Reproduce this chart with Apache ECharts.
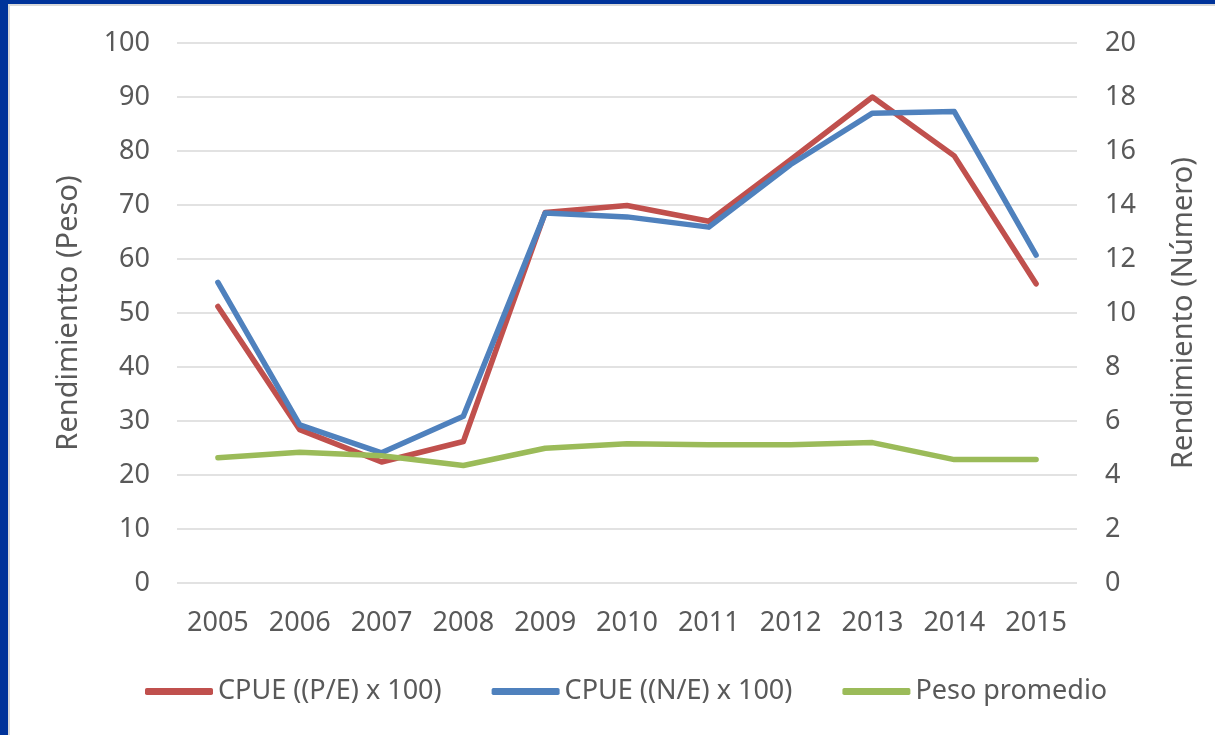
<!DOCTYPE html>
<html>
<head>
<meta charset="utf-8">
<script src="https://cdn.jsdelivr.net/npm/echarts@6/dist/echarts.min.js"></script>
<style>
html,body{margin:0;padding:0;background:#fff;}
#chart{position:absolute;left:0;top:0;width:1215px;height:735px;background:#fff;}
.b{position:absolute;}
</style>
</head>
<body>
<div id="chart"></div>
<div class="b" style="left:0;top:0;width:8px;height:735px;background:#00339a;"></div>
<div class="b" style="left:0;top:0;width:1215px;height:4px;background:#00339a;"></div>
<div class="b" style="left:8px;top:4px;width:2px;height:731px;background:#d9d9d9;"></div>
<div class="b" style="left:8px;top:4px;width:1207px;height:2px;background:#d9d9d9;"></div>
<script>
var years = ['2005','2006','2007','2008','2009','2010','2011','2012','2013','2014','2015'];
var cpuePeso = [51.2, 28.4, 22.4, 26.2, 68.6, 69.9, 67.0, 78.4, 90.0, 79.1, 55.4];
var cpueNumero = [11.13, 5.86, 4.82, 6.18, 13.7, 13.56, 13.18, 15.5, 17.4, 17.46, 12.14];
var pesoPromedio = [4.64, 4.84, 4.71, 4.35, 4.99, 5.16, 5.12, 5.12, 5.2, 4.57, 4.57];
var seriesNames = ['CPUE ((P/E) x 100)', 'CPUE ((N/E) x 100)', 'Peso promedio'];
var leftName = 'Rendimientto (Peso)';
var rightName = 'Rendimiento (Número)';

var font = 'Noto Sans';
var txt = '#595959';
var chart = echarts.init(document.getElementById('chart'));
chart.setOption({
  animation: false,
  backgroundColor: '#fff',
  grid: {left: 177, right: 138, top: 43, bottom: 152, containLabel: false},
  legend: {
    left: 140, top: 673, itemWidth: 68, itemHeight: 7, itemGap: 50,
    icon: 'roundRect',
    textStyle: {fontFamily: font, fontSize: 27, color: txt, padding: [0,0,0,0]},
    data: seriesNames
  },
  xAxis: {
    type: 'category', data: years, boundaryGap: true,
    axisLine: {show: false}, axisTick: {show: false},
    axisLabel: {fontFamily: font, fontSize: 27, color: txt, margin: 27}
  },
  yAxis: [{
    type: 'value', min: 0, max: 100, interval: 10,
    name: leftName, nameLocation: 'middle', nameGap: 94,
    nameTextStyle: {fontFamily: font, fontSize: 29, color: txt},
    axisLine: {show: false}, axisTick: {show: false},
    axisLabel: {fontFamily: font, fontSize: 27, color: txt, margin: 27},
    splitLine: {lineStyle: {color: '#d9d9d9', width: 1.5}}
  }, {
    type: 'value', min: 0, max: 20, interval: 2,
    name: rightName, nameLocation: 'middle', nameGap: 92,
    nameTextStyle: {fontFamily: font, fontSize: 29, color: txt},
    axisLine: {show: false}, axisTick: {show: false},
    axisLabel: {fontFamily: font, fontSize: 27, color: txt, margin: 28},
    splitLine: {show: false}
  }],
  series: [{
    name: seriesNames[0], type: 'line', yAxisIndex: 0, data: cpuePeso,
    symbol: 'none', color: '#c0504d', lineStyle: {width: 5.5, cap: 'round', join: 'round'}
  }, {
    name: seriesNames[1], type: 'line', yAxisIndex: 1, data: cpueNumero,
    symbol: 'none', color: '#4f81bd', lineStyle: {width: 5.5, cap: 'round', join: 'round'}
  }, {
    name: seriesNames[2], type: 'line', yAxisIndex: 1, data: pesoPromedio,
    symbol: 'none', color: '#9bbb59', lineStyle: {width: 5.5, cap: 'round', join: 'round'}
  }]
});
</script>
</body>
</html>
